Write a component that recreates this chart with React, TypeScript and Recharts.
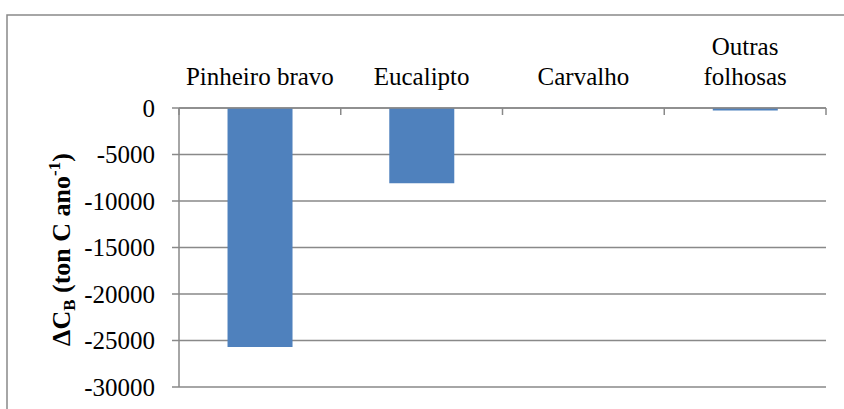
import React from "react";
import { BarChart, Bar, XAxis, YAxis, CartesianGrid } from "recharts";

const categories = ["Pinheiro bravo", "Eucalipto", "Carvalho", "Outras folhosas"];
const categoryLines = [["Pinheiro bravo"], ["Eucalipto"], ["Carvalho"], ["Outras", "folhosas"]];
const deltaCB = [-25700, -8100, -30, -280];
const yTicks = [0, -5000, -10000, -15000, -20000, -25000, -30000];

const data = categories.map((c, i) => ({ name: c, value: deltaCB[i] }));

const GRAY = "#898989";
const FONT = '"Liberation Serif", "Times New Roman", serif';

const XTick = (props: any) => {
  const { x, y, payload, index } = props;
  const half = payload && payload.offset ? payload.offset : 0;
  const lines: string[] = categoryLines[index] || [String(payload.value)];
  const lh = 30;
  return (
    <g>
      <line x1={x - half} x2={x - half} y1={y} y2={y + 7} stroke={GRAY} strokeWidth={1.5} />
      {index === categories.length - 1 && (
        <line x1={x + half} x2={x + half} y1={y} y2={y + 7} stroke={GRAY} strokeWidth={1.5} />
      )}
      {lines.map((l, i) => (
        <text
          key={i}
          x={x}
          y={y - 23 - (lines.length - 1 - i) * lh}
          textAnchor="middle"
          style={{ fontFamily: FONT, fontSize: 25 }}
          fill="#000"
        >
          {l}
        </text>
      ))}
    </g>
  );
};

const YTick = (props: any) => {
  const { x, y, payload } = props;
  return (
    <text x={x} y={y} dy="0.355em" textAnchor="end" style={{ fontFamily: FONT, fontSize: 25 }} fill="#000">
      {payload.value}
    </text>
  );
};

const YTitle = (props: any) => {
  const vb = props.viewBox || {};
  const cy = (vb.y || 0) + (vb.height || 0) / 2;
  const cx = 70;
  return (
    <text
      transform={`translate(${cx},${cy + 2}) rotate(-90)`}
      textAnchor="middle"
      style={{ fontFamily: FONT, fontSize: 26, fontWeight: "bold" }}
      fill="#000"
    >
      ΔC
      <tspan style={{ fontSize: 17 }} dy={5}>B</tspan>
      <tspan dy={-5}> (ton C ano</tspan>
      <tspan style={{ fontSize: 17 }} dy={-10}>-1</tspan>
      <tspan dy={10}>)</tspan>
    </text>
  );
};

export default function App() {
  return (
    <div style={{ position: "absolute", left: 0, top: 0, width: 844, height: 409, background: "#fff", fontFamily: FONT }}>
      <svg width={844} height={409} style={{ position: "absolute", left: 0, top: 0 }}>
        <rect x={7} y={15} width={900} height={500} fill="#fff" stroke={GRAY} strokeWidth={1.5} />
      </svg>
      <div style={{ position: "absolute", left: 0, top: 0 }}>
        <BarChart
          width={844}
          height={409}
          data={data}
          margin={{ top: 48, right: 18, bottom: 22, left: 0 }}
          barCategoryGap="30%"
          style={{ fontFamily: FONT }}
        >
          <CartesianGrid vertical={false} stroke={GRAY} strokeWidth={1.5} />
          <XAxis
            dataKey="name"
            orientation="top"
            height={60}
            axisLine={{ stroke: GRAY, strokeWidth: 1.5 }}
            tickLine={false}
            tickSize={0}
            tickMargin={0}
            tick={<XTick />}
            interval={0}
          />
          <YAxis
            width={179}
            domain={[-30000, 0]}
            ticks={yTicks}
            interval={0}
            axisLine={{ stroke: GRAY, strokeWidth: 1.5 }}
            tickLine={{ stroke: GRAY, strokeWidth: 1.5 }}
            tickSize={7}
            tickMargin={17}
            tick={<YTick />}
            label={<YTitle />}
          />
          <Bar dataKey="value" fill="#4F81BD" isAnimationActive={false} />
        </BarChart>
      </div>
    </div>
  );
}
